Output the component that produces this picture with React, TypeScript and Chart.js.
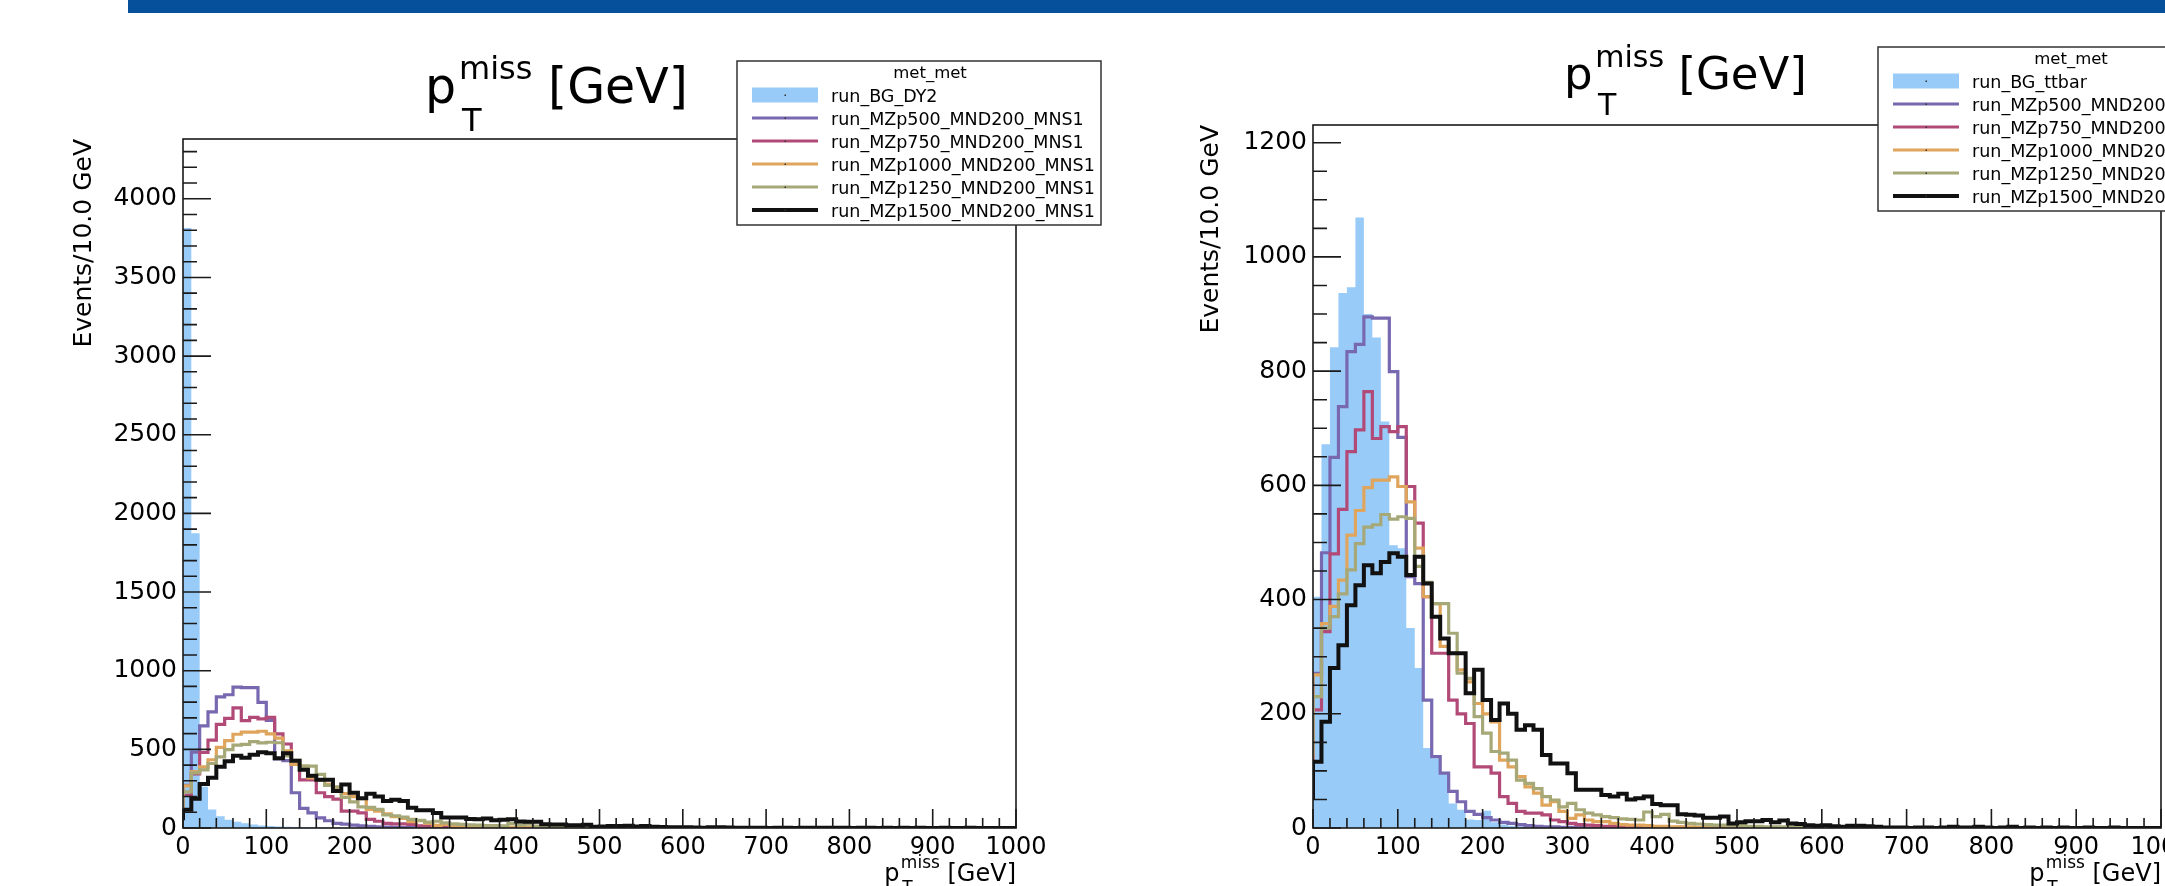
import React, { useEffect, useRef } from "react";
import { Chart, registerables } from "chart.js";

Chart.register(...registerables);

const FONT = "DejaVu Sans";
const PAGE_W = 2165;
const PAGE_H = 886;

// ---- binning / axes ----
const BIN_WIDTH = 10; // GeV
const X_MIN = 0;
const X_MAX = 1000;
const X_TICKS = [0, 100, 200, 300, 400, 500, 600, 700, 800, 900, 1000];
const X_MINOR_STEP = 20;

const LEFT_Y_MAX = 4380;
const LEFT_Y_TICKS = [0, 500, 1000, 1500, 2000, 2500, 3000, 3500, 4000];
const LEFT_Y_MINOR = 100;
const RIGHT_Y_MAX = 1231;
const RIGHT_Y_TICKS = [0, 200, 400, 600, 800, 1000, 1200];
const RIGHT_Y_MINOR = 50;

const LEGEND_HEADER = "met_met";
const Y_TITLE = "Events/10.0 GeV";
const BG_NAME_LEFT = "run_BG_DY2";
const BG_NAME_RIGHT = "run_BG_ttbar";

// ---- histogram contents (events per 10 GeV bin, 0..1000 GeV) ----
const BG_DY2 = [
  3093, 3814, 1874, 262, 118, 74, 52, 40, 30, 22,
  16, 13, 10, 8, 7, 6, 5, 4, 3, 3,
  2, 2, 2, 1, 1, 1, 1, 1, 0, 1,
  0, 0, 1, 0, 0, 0, 0, 0, 0, 0,
  0, 0, 0, 0, 0, 0, 0, 0, 0, 0,
  0, 0, 0, 0, 0, 0, 0, 0, 0, 0,
  0, 0, 0, 0, 0, 0, 0, 0, 0, 0,
  0, 0, 0, 0, 0, 0, 0, 0, 0, 0,
  0, 0, 0, 0, 0, 0, 0, 0, 0, 0,
  0, 0, 0, 0, 0, 0, 0, 0, 0, 0,
];

const BG_TTBAR = [
  137, 405, 672, 842, 937, 947, 1069, 900, 859, 712,
  495, 490, 350, 280, 140, 122, 98, 43, 32, 15,
  14, 30, 10, 6, 4, 3, 2, 2, 1, 1,
  1, 1, 0, 1, 0, 0, 1, 0, 0, 0,
  0, 0, 0, 0, 0, 0, 0, 0, 0, 0,
  0, 0, 0, 0, 0, 0, 0, 0, 0, 0,
  0, 0, 0, 0, 0, 0, 0, 0, 0, 0,
  0, 0, 0, 0, 0, 0, 0, 0, 0, 0,
  0, 0, 0, 0, 0, 0, 0, 0, 0, 0,
  0, 0, 0, 0, 0, 0, 0, 0, 0, 0,
];

const MZP500 = [
  90, 271, 482, 649, 738, 834, 847, 895, 893, 893,
  799, 684, 440, 428, 224, 125, 96, 64, 46, 29,
  24, 18, 14, 10, 8, 6, 4, 3, 2, 2,
  1, 1, 1, 0, 1, 0, 0, 0, 0, 0,
  0, 0, 0, 0, 0, 0, 0, 0, 0, 0,
  0, 0, 0, 0, 0, 0, 0, 0, 0, 0,
  0, 0, 0, 0, 0, 0, 0, 0, 0, 0,
  0, 0, 0, 0, 0, 0, 0, 0, 0, 0,
  0, 0, 0, 0, 0, 0, 0, 0, 0, 0,
  0, 0, 0, 0, 0, 0, 0, 0, 0, 0,
];

const MZP750 = [
  55, 207, 344, 480, 558, 659, 697, 764, 682, 703,
  694, 703, 598, 534, 405, 306, 306, 224, 200, 183,
  107, 107, 96, 55, 43, 29, 26, 26, 23, 14,
  11, 8, 6, 5, 4, 3, 3, 2, 2, 1,
  1, 1, 1, 0, 1, 0, 0, 1, 0, 0,
  0, 0, 0, 0, 0, 0, 0, 0, 0, 0,
  0, 0, 0, 0, 0, 0, 0, 0, 0, 0,
  0, 0, 0, 0, 0, 0, 0, 0, 0, 0,
  0, 0, 0, 0, 0, 0, 0, 0, 0, 0,
  0, 0, 0, 0, 0, 0, 0, 0, 0, 0,
];

const MZP1000 = [
  120, 268, 358, 388, 434, 513, 556, 596, 609, 609,
  615, 598, 571, 490, 405, 393, 318, 306, 277, 256,
  218, 200, 186, 119, 107, 90, 72, 61, 40, 46,
  29, 17, 23, 14, 11, 11, 8, 6, 5, 5,
  4, 3, 3, 2, 2, 2, 1, 1, 1, 1,
  1, 0, 1, 0, 0, 1, 0, 0, 0, 0,
  0, 0, 0, 0, 0, 0, 0, 0, 0, 0,
  0, 0, 0, 0, 0, 0, 0, 0, 0, 0,
  0, 0, 0, 0, 0, 0, 0, 0, 0, 0,
  0, 0, 0, 0, 0, 0, 0, 0, 0, 0,
];

const MZP1250 = [
  130, 230, 350, 370, 410, 452, 498, 527, 531, 549,
  541, 545, 542, 458, 430, 393, 393, 341, 271, 262,
  195, 166, 134, 131, 119, 84, 78, 69, 55, 49,
  37, 43, 32, 26, 23, 20, 18, 16, 15, 14,
  28, 20, 24, 12, 10, 8, 7, 6, 5, 5,
  4, 4, 3, 3, 2, 2, 2, 2, 1, 1,
  1, 1, 1, 1, 0, 1, 0, 1, 0, 0,
  0, 0, 0, 0, 0, 0, 0, 0, 0, 0,
  0, 0, 0, 0, 0, 0, 0, 0, 0, 0,
  0, 0, 0, 0, 0, 0, 0, 0, 0, 0,
];

const MZP1500 = [
  49, 116, 186, 280, 320, 390, 425, 460, 446, 466,
  481, 475, 443, 475, 428, 370, 332, 306, 306, 236,
  277, 224, 189, 218, 200, 172, 180, 172, 128, 113,
  113, 96, 67, 67, 67, 58, 55, 60, 50, 52,
  55, 42, 40, 40, 24, 23, 22, 18, 18, 20,
  8, 10, 12, 12, 14, 10, 13, 8, 7, 5,
  4, 5, 3, 2, 4, 4, 3, 2, 1, 1,
  1, 0, 1, 1, 0, 1, 2, 1, 1, 2,
  1, 0, 1, 2, 0, 1, 0, 1, 0, 1,
  0, 0, 1, 0, 0, 1, 0, 0, 0, 0,
];

const SIGNAL_NAMES = [
  "run_MZp500_MND200_MNS1",
  "run_MZp750_MND200_MNS1",
  "run_MZp1000_MND200_MNS1",
  "run_MZp1250_MND200_MNS1",
  "run_MZp1500_MND200_MNS1",
];
const SIGNAL_VALUES = [MZP500, MZP750, MZP1000, MZP1250, MZP1500];
const SIGNAL_COLORS = ["#7868b0", "#b24a78", "#e0a55c", "#a6a878", "#111111"];
const SIGNAL_WIDTHS = [3.2, 3.2, 3.2, 3.2, 4];
const BG_COLOR = "#99cbf8";

type Area = { left: number; top: number; right: number; bottom: number };
type PanelSpec = {
  canvasLeft: number;
  canvasWidth: number;
  area: Area;
  bg: number[];
  bgName: string;
  yMax: number;
  yTicks: number[];
  yMinor: number;
  titleX: number;
  titleBaseline: number;
  titleBig: number;
  titleSmall: number;
  legendX: number;
  legendY: number;
  yTitleCenter: number;
};

const PANELS: PanelSpec[] = [
  {
    canvasLeft: 0,
    canvasWidth: 1110,
    area: { left: 183, top: 139, right: 1016, bottom: 828 },
    bg: BG_DY2,
    bgName: BG_NAME_LEFT,
    yMax: LEFT_Y_MAX,
    yTicks: LEFT_Y_TICKS,
    yMinor: LEFT_Y_MINOR,
    titleX: 425,
    titleBaseline: 103,
    titleBig: 49,
    titleSmall: 32,
    legendX: 737,
    legendY: 61,
    yTitleCenter: 84,
  },
  {
    canvasLeft: 1110,
    canvasWidth: 1055,
    area: { left: 203, top: 125, right: 1051, bottom: 828 },
    bg: BG_TTBAR,
    bgName: BG_NAME_RIGHT,
    yMax: RIGHT_Y_MAX,
    yTicks: RIGHT_Y_TICKS,
    yMinor: RIGHT_Y_MINOR,
    titleX: 454,
    titleBaseline: 89,
    titleBig: 45,
    titleSmall: 30,
    legendX: 768,
    legendY: 47,
    yTitleCenter: 101,
  },
];

function toSteps(vals: number[]) {
  const pts = vals.map((v, i) => ({ x: X_MIN + i * BIN_WIDTH, y: v }));
  pts.push({ x: X_MIN + vals.length * BIN_WIDTH, y: vals[vals.length - 1] });
  return pts;
}

function drawPtMiss(ctx: any, x: number, baseline: number, big: number, small: number, supDy: number, subDy: number) {
  ctx.fillStyle = "#000";
  ctx.textAlign = "left";
  ctx.textBaseline = "alphabetic";
  ctx.font = `${big}px "${FONT}"`;
  ctx.fillText("p", x, baseline);
  const pw = ctx.measureText("p").width;
  ctx.font = `${small}px "${FONT}"`;
  const sx = x + pw + big * 0.06;
  ctx.fillText("miss", sx, baseline - supDy);
  ctx.fillText("T", sx + big * 0.06, baseline + subDy);
  const mw = ctx.measureText("miss").width;
  ctx.font = `${big}px "${FONT}"`;
  ctx.fillText(" [GeV]", sx + mw, baseline);
}

function ptMissWidth(ctx: any, big: number, small: number) {
  ctx.font = `${big}px "${FONT}"`;
  const pw = ctx.measureText("p").width;
  const gw = ctx.measureText(" [GeV]").width;
  ctx.font = `${small}px "${FONT}"`;
  const mw = ctx.measureText("miss").width;
  return pw + big * 0.06 + mw + gw;
}

function makeDecorPlugin(p: PanelSpec) {
  return {
    id: "rootDecor",
    afterDatasetsDraw(chart: any) {
      const { ctx, chartArea: a } = chart;
      const xs = chart.scales.x;
      const ys = chart.scales.y;
      ctx.save();
      ctx.strokeStyle = "#1a1a1a";
      ctx.lineWidth = 1.6;
      ctx.beginPath();
      for (let v = X_MIN; v <= X_MAX; v += X_MINOR_STEP) {
        const px = xs.getPixelForValue(v);
        const len = X_TICKS.includes(v) ? 19 : 10;
        ctx.moveTo(px, a.bottom);
        ctx.lineTo(px, a.bottom - len);
      }
      for (let v = 0; v <= p.yMax; v += p.yMinor) {
        const py = ys.getPixelForValue(v);
        const len = p.yTicks.includes(v) ? 28 : 14;
        ctx.moveTo(a.left, py);
        ctx.lineTo(a.left + len, py);
      }
      ctx.stroke();
      ctx.lineWidth = 1.6;
      ctx.strokeRect(a.left, a.top, a.right - a.left, a.bottom - a.top);
      ctx.restore();
    },
    afterDraw(chart: any) {
      const { ctx, chartArea: a } = chart;
      ctx.save();
      // main title
      const s = p.titleBig / 47;
      drawPtMiss(ctx, p.titleX, p.titleBaseline, p.titleBig, p.titleSmall, 23 * s, 27 * s);
      // x-axis title, right aligned to the axis end
      const w = ptMissWidth(ctx, 24, 17);
      drawPtMiss(ctx, a.right - w, 881, 24, 17, 13, 12);

      // legend box
      const lx = p.legendX;
      const ly = p.legendY;
      const lw = 364;
      const lh = 164;
      ctx.fillStyle = "#ffffff";
      ctx.fillRect(lx, ly, lw, lh);
      ctx.strokeStyle = "#333";
      ctx.lineWidth = 1.5;
      ctx.strokeRect(lx, ly, lw, lh);
      ctx.fillStyle = "#000";
      ctx.font = `16.5px "${FONT}"`;
      ctx.textAlign = "center";
      ctx.textBaseline = "alphabetic";
      ctx.fillText(LEGEND_HEADER, lx + 193, ly + 17);
      const entries = [
        { name: p.bgName, color: BG_COLOR, fill: true, width: 0 },
        ...SIGNAL_NAMES.map((n, i) => ({ name: n, color: SIGNAL_COLORS[i], fill: false, width: SIGNAL_WIDTHS[i] })),
      ];
      entries.forEach((e, i) => {
        const cy = ly + 34 + 23 * i;
        if (e.fill) {
          ctx.fillStyle = e.color;
          ctx.fillRect(lx + 15, cy - 7.5, 66, 15);
        } else {
          ctx.strokeStyle = e.color;
          ctx.lineWidth = e.width;
          ctx.beginPath();
          ctx.moveTo(lx + 15, cy);
          ctx.lineTo(lx + 81, cy);
          ctx.stroke();
        }
        ctx.fillStyle = "#333";
        ctx.fillRect(lx + 47.5, cy - 0.5, 1.5, 1.5);
        ctx.fillStyle = "#000";
        ctx.font = `17.5px "${FONT}"`;
        ctx.textAlign = "left";
        ctx.fillText(e.name, lx + 94, cy + 7);
      });
      ctx.restore();
    },
  };
}

function Panel({ spec }: { spec: PanelSpec }) {
  const ref = useRef<HTMLCanvasElement | null>(null);
  useEffect(() => {
    const canvas = ref.current;
    if (!canvas) return;
    const a = spec.area;
    const datasets: any[] = [
      {
        label: spec.bgName,
        data: toSteps(spec.bg),
        stepped: "after",
        fill: "origin",
        backgroundColor: BG_COLOR,
        borderColor: "rgba(0,0,0,0)",
        borderWidth: 0,
        pointRadius: 0,
        order: 10,
      },
      ...SIGNAL_VALUES.map((vals, i) => ({
        label: SIGNAL_NAMES[i],
        data: toSteps(vals),
        stepped: "after",
        fill: false,
        borderColor: SIGNAL_COLORS[i],
        borderWidth: SIGNAL_WIDTHS[i],
        borderJoinStyle: "miter",
        borderCapStyle: "butt",
        pointRadius: 0,
        order: 5 - i,
      })),
    ];
    const chart = new Chart(canvas, {
      type: "line",
      data: { datasets },
      options: {
        animation: false,
        responsive: false,
        devicePixelRatio: 1,
        events: [],
        layout: {
          padding: { left: 0, top: a.top, right: spec.canvasWidth - a.right, bottom: 0 },
        },
        plugins: {
          legend: { display: false },
          title: { display: false },
          tooltip: { enabled: false },
        },
        scales: {
          x: {
            type: "linear",
            min: X_MIN,
            max: X_MAX,
            grid: { display: false, drawTicks: false },
            border: { display: false },
            afterBuildTicks: (s: any) => {
              s.ticks = X_TICKS.map((v) => ({ value: v }));
            },
            ticks: {
              autoSkip: false,
              maxRotation: 0,
              padding: 5,
              color: "#000",
              font: { family: FONT, size: 24 },
              callback: (v: any) => String(v),
            },
            afterFit: (s: any) => {
              s.height = PAGE_H - a.bottom;
              s.paddingLeft = 0;
              s.paddingRight = 0;
            },
          },
          y: {
            type: "linear",
            min: 0,
            max: spec.yMax,
            grid: { display: false, drawTicks: false },
            border: { display: false },
            afterBuildTicks: (s: any) => {
              s.ticks = spec.yTicks.map((v) => ({ value: v }));
            },
            title: {
              display: true,
              text: Y_TITLE,
              align: "end",
              color: "#000",
              font: { family: FONT, size: 25 },
              padding: { top: spec.yTitleCenter - 15, bottom: 0 },
            },
            ticks: {
              padding: 6,
              color: "#000",
              font: { family: FONT, size: 25 },
              callback: (v: any) => String(v),
            },
            afterFit: (s: any) => {
              s.width = a.left;
              s.paddingTop = 0;
              s.paddingBottom = 0;
            },
          },
        },
      },
      plugins: [makeDecorPlugin(spec)],
    } as any);
    return () => chart.destroy();
  }, [spec]);
  return (
    <canvas
      ref={ref}
      width={spec.canvasWidth}
      height={PAGE_H}
      style={{ position: "absolute", left: spec.canvasLeft, top: 0, width: spec.canvasWidth, height: PAGE_H }}
    />
  );
}

export default function App() {
  return (
    <div
      style={{
        position: "fixed",
        left: 0,
        top: 0,
        width: PAGE_W,
        height: PAGE_H,
        overflow: "hidden",
        background: "#ffffff",
      }}
    >
      <div style={{ position: "absolute", left: 128, top: 0, width: PAGE_W - 128, height: 13, background: "#064f9b" }} />
      {PANELS.map((p, i) => (
        <Panel key={i} spec={p} />
      ))}
    </div>
  );
}
